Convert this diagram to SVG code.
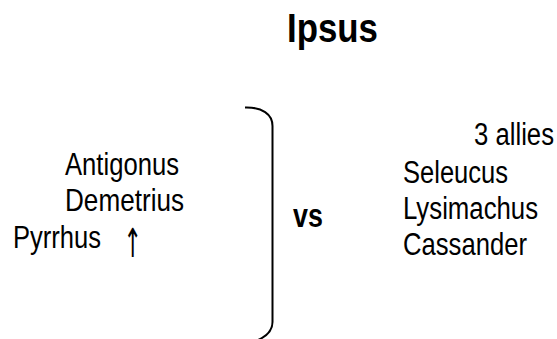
<svg xmlns="http://www.w3.org/2000/svg" width="557" height="339" viewBox="0 0 557 339">
  <style>
    .t { font-family: "Liberation Sans", Arial, sans-serif; font-size: 31px; fill: #000; }
    .b { font-family: "Liberation Sans", Arial, sans-serif; font-weight: bold; fill: #000; }
    .arrow { font-family: "DejaVu Sans", sans-serif; font-size: 40px; fill: #000; }
    .brace { fill: none; stroke: #000; stroke-width: 2; }
  </style>
  <rect width="557" height="339" fill="#fff"/>

  <!-- narrow lettering: each label is squeezed horizontally about its start point -->
  <g id="title">
    <text class="b" font-size="40" transform="translate(287,42) scale(0.87,1)">Ipsus</text>
  </g>

  <g id="left-side">
    <text class="t" transform="translate(65,174.5) scale(0.827,1)">Antigonus</text>
    <text class="t" transform="translate(65,211) scale(0.843,1)">Demetrius</text>
    <text class="t" transform="translate(13,248) scale(0.824,1)">Pyrrhus</text>
    <text class="arrow" transform="translate(123.5,257) scale(0.55,1)">↑</text>
  </g>

  <g id="connectors">
    <path class="brace" d="M245,107.5 C262,107 272.5,114 272.5,126 L272.5,322 C272.5,331 267,336 258,340"/>
  </g>

  <g id="versus">
    <text class="b" font-size="34" transform="translate(293,227) scale(0.79,1)">vs</text>
  </g>

  <g id="right-side">
    <text class="t" transform="translate(474,145) scale(0.829,1)">3 allies</text>
    <text class="t" transform="translate(403,183) scale(0.824,1)">Seleucus</text>
    <text class="t" transform="translate(403,219) scale(0.831,1)">Lysimachus</text>
    <text class="t" transform="translate(403,255) scale(0.827,1)">Cassander</text>
  </g>
</svg>
